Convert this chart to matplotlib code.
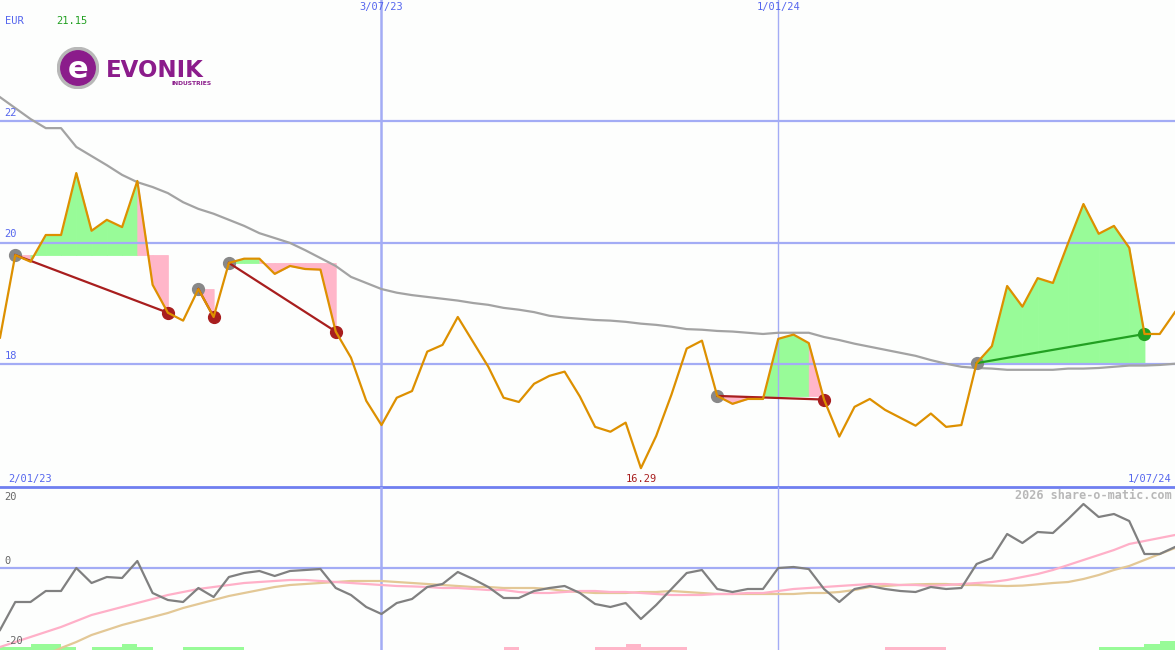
import matplotlib
matplotlib.use('Agg')
import matplotlib.pyplot as plt
import numpy as np
from matplotlib.patches import Circle
from matplotlib.transforms import blended_transform_factory

# weekly closing prices (EUR), index 0 = 2/01/23
price = [18.44, 19.80, 19.69, 20.13, 20.13, 21.15, 20.20, 20.38, 20.26, 21.02,
         19.31, 18.85, 18.72, 19.24, 18.78, 19.67, 19.74, 19.74, 19.49, 19.62,
         19.57, 19.56, 18.54, 18.11, 17.40, 17.00, 17.45, 17.56, 18.21, 18.32,
         18.78, 18.37, 17.96, 17.45, 17.38, 17.68, 17.81, 17.88, 17.47, 16.97,
         16.89, 17.04, 16.29, 16.82, 17.50, 18.26, 18.39, 17.48, 17.35, 17.43,
         17.43, 18.42, 18.49, 18.35, 17.42, 16.81, 17.30, 17.43, 17.25, 17.12,
         16.99, 17.19, 16.97, 17.00, 18.02, 18.30, 19.29, 18.95, 19.42, 19.34,
         20.00, 20.64, 20.15, 20.28, 19.92, 18.50, 18.50, 18.86]

# long moving average
ma_long = [22.40, 22.22, 22.04, 21.89, 21.89, 21.58, 21.43, 21.28, 21.12, 21.00,
           20.92, 20.82, 20.67, 20.56, 20.48, 20.38, 20.28, 20.16, 20.08, 20.00,
           19.88, 19.75, 19.62, 19.44, 19.34, 19.24, 19.18, 19.14, 19.11, 19.08,
           19.05, 19.01, 18.98, 18.93, 18.90, 18.86, 18.80, 18.77, 18.75, 18.73,
           18.72, 18.70, 18.67, 18.65, 18.62, 18.58, 18.57, 18.55, 18.54, 18.52,
           18.50, 18.52, 18.52, 18.52, 18.45, 18.40, 18.34, 18.29, 18.24, 18.19,
           18.14, 18.07, 18.01, 17.96, 17.94, 17.93, 17.91, 17.91, 17.91, 17.91,
           17.93, 17.93, 17.94, 17.96, 17.98, 17.98, 17.99, 18.01]

# trades: (entry index, exit index)
trades = [(1, 11), (13, 14), (15, 22), (47, 54), (64, 75)]

# oscillator panel
osc = [-15.5, -8.5, -8.5, -5.75, -5.75, 0, -3.75, -2.25, -2.5, 1.75,
       -6.25, -8, -8.5, -5, -7.25, -2.25, -1.25, -0.75, -2, -0.75,
       -0.5, -0.25, -5, -6.75, -9.75, -11.5, -8.75, -7.75, -4.75, -4,
       -1, -2.75, -4.75, -7.5, -7.5, -5.75, -5, -4.5, -6.25, -9,
       -9.75, -8.75, -12.75, -9.25, -5.25, -1.25, -0.5, -5.25, -6, -5.25,
       -5.25, 0, 0.25, -0.25, -5.25, -8.5, -5.25, -4.5, -5.25, -5.75,
       -6, -4.75, -5.25, -5, 1, 2.5, 8.5, 6.25, 9, 8.75,
       12.25, 16, 12.75, 13.5, 11.75, 3.5, 3.5, 5.25]
sig_fast = [-19.75, -18.5, -17.25, -16, -14.75, -13.25, -11.75, -10.75, -9.75, -8.75,
            -7.75, -6.75, -6, -5.25, -4.75, -4.25, -3.75, -3.5, -3.25, -3,
            -3, -3.25, -3.5, -3.75, -4, -4.25, -4.5, -4.6, -4.75, -5,
            -5, -5.25, -5.5, -5.5, -6, -6.25, -6.25, -6, -5.75, -5.75,
            -6, -6, -6.25, -6.5, -6.75, -6.75, -6.75, -6.5, -6.5, -6.25,
            -6.25, -5.75, -5.25, -5, -4.75, -4.5, -4.25, -4, -4, -4.25,
            -4.25, -4.5, -4.25, -4, -3.75, -3.5, -3, -2.25, -1.5, -0.5,
            0.75, 2, 3.25, 4.5, 6, 6.75, 7.5, 8.25]
sig_slow = [-26.5, -24.75, -23.25, -21.75, -20, -18.5, -16.75, -15.5, -14.25, -13.25,
            -12.25, -11.25, -10, -9, -8, -7, -6.25, -5.5, -4.75, -4.25,
            -4, -3.75, -3.5, -3.25, -3.25, -3.25, -3.5, -3.75, -4, -4.25,
            -4.5, -4.75, -4.75, -5, -5, -5, -5.25, -5.75, -6, -6.25,
            -6.25, -6.25, -6, -6, -5.75, -6, -6.25, -6.5, -6.5, -6.5,
            -6.5, -6.5, -6.5, -6.25, -6.25, -6, -5.5, -4.75, -4.5, -4.25,
            -4.1, -4, -4, -4.25, -4.25, -4.4, -4.5, -4.4, -4.1, -3.75,
            -3.5, -2.75, -1.75, -0.5, 0.5, 2, 3.5, 5]
# signal bars at the bottom (+ green, - pink), level per week
bars = [1, 1, 2, 2, 1, 0, 1, 1, 2, 1, 0, 0, 1, 1, 1, 1, 0, 0, 0, 0,
        0, 0, 0, 0, 0, 0, 0, 0, 0, 0, 0, 0, 0, -1, 0, 0, 0, 0, 0, -1,
        -1, -2, -1, -1, -1, 0, 0, 0, 0, 0, 0, 0, 0, 0, 0, 0, 0, 0, -1, -1,
        -1, -1, 0, 0, 0, 0, 0, 0, 0, 0, 0, 0, 1, 1, 1, 2, 3, 0]

date_labels = {0: '2/01/23', 25: '3/07/23', 51: '1/01/24', 77: '1/07/24'}
y_levels = [18, 20, 22]
osc_levels = [20, 0, -20]

GRID = '#a3acf5'
DIV = '#6f7ff0'
LABEL = '#5566ee'
ORANGE = '#dd9000'
BG = '#fdfefd'
MONO = 'DejaVu Sans Mono'

W, H = 1175, 650
fig = plt.figure(figsize=(W / 100, H / 100), dpi=100, facecolor=BG)
ax = fig.add_axes([0, 1 - 487 / H, 1, 487 / H])
ax2 = fig.add_axes([0, 0, 1, 1 - 487 / H])
for a in (ax, ax2):
    a.set_facecolor(BG)
    a.axis('off')
    a.set_xlim(0, len(price) - 1)
ax.set_ylim(15.98, 24.0)
ax2.set_ylim(-20.5, 20.25)

x = np.arange(len(price))
p = np.array(price)

# main panel
for lv in y_levels:
    ax.axhline(lv, color=GRID, lw=1.6, zorder=2)
for i, lab in date_labels.items():
    if 0 < i < len(price) - 1:
        lw = 1.8 if i == 25 else 1.0
        for a in (ax, ax2):
            a.axvline(i, color=GRID, lw=lw, zorder=2)
ax.axhline(15.98, color=DIV, lw=2, zorder=7, clip_on=False)

for s, e in trades:
    entry = p[s]
    for i in range(s, e):
        col = '#98fb98' if p[i + 1] >= entry else '#ffb6c9'
        ax.fill_between([i, i + 1], [p[i], p[i + 1]], entry, facecolor=col,
                        edgecolor=col, lw=0.6, zorder=1)
    col = '#22a022' if p[e] > entry else '#a81e1e'
    ax.plot([s], [entry], 'o', color='#888888', ms=8.5, zorder=4)
    ax.plot([e], [p[e]], 'o', color=col, ms=8.5, zorder=4)
    ax.plot([s, e], [entry, p[e]], color=col, lw=1.6, zorder=5)

ax.plot(x, ma_long, color='#a3a3a3', lw=1.6, zorder=3)
ax.plot(x, p, color=ORANGE, lw=1.6, zorder=6)

tr = blended_transform_factory(ax.transAxes, ax.transData)
for lv in y_levels:
    ax.text(0.004, lv + 0.06, str(lv), transform=tr, color=LABEL, fontsize=7.5,
            family=MONO, va='bottom', ha='left')
trx = blended_transform_factory(ax.transData, ax.transAxes)
for i, lab in date_labels.items():
    if 0 < i < len(price) - 1:
        ax.text(i, 0.995, lab, transform=trx, color=LABEL, fontsize=7.5,
                family=MONO, va='top', ha='center')
ax.text(0.007, 0.006, date_labels[0], transform=ax.transAxes, color=LABEL,
        fontsize=7.5, family=MONO, va='bottom', ha='left')
ax.text(0.997, 0.006, date_labels[len(price) - 1], transform=ax.transAxes, color=LABEL,
        fontsize=7.5, family=MONO, va='bottom', ha='right')
imin = int(np.argmin(p))
ax.text(imin, 0.006, f'{p.min():.2f}', transform=trx, color='#a81e1e',
        fontsize=7.5, family=MONO, va='bottom', ha='center')
fig.text(5 / W, 1 - 24 / H, 'EUR', color=LABEL, fontsize=7.5, family=MONO)
fig.text(56 / W, 1 - 24 / H, f'{p.max():.2f}', color='#22a022', fontsize=7.5, family=MONO)

# logo
lax = fig.add_axes([57 / W, 1 - 89 / H, 42 / W, 42 / H])
lax.set_xlim(-1, 1)
lax.set_ylim(-1, 1)
lax.axis('off')
lax.add_patch(Circle((0, 0), 0.98, color='#b8b8b8'))
lax.add_patch(Circle((0, 0), 0.82, color='#8b1c8b'))
lax.text(0.02, -0.05, 'e', color='white', fontsize=22, fontweight='bold',
         ha='center', va='center', family='DejaVu Sans')
fig.text(106 / W, 1 - 77 / H, 'EVONIK', color='#8b1c8b', fontsize=16.5,
         fontweight='bold', family='DejaVu Sans')
fig.text(212 / W, 1 - 85 / H, 'INDUSTRIES', color='#8b1c8b', fontsize=4.3,
         fontweight='bold', family='DejaVu Sans', ha='right')

# oscillator panel
unit = 0.75
b = np.array(bars)
for i, v in enumerate(b):
    if v != 0:
        ax2.bar(i, abs(v) * unit, width=1, bottom=-20.5, align='edge',
                color='#98fb98' if v > 0 else '#ffb6c9', lw=0, zorder=1)
ax2.axhline(0, color=GRID, lw=1.6, zorder=2)
ax2.plot(x, sig_slow, color='#e3c896', lw=1.6, zorder=3)
ax2.plot(x, sig_fast, color='#ffb0c8', lw=1.6, zorder=3)
ax2.plot(x, osc, color='#808080', lw=1.6, zorder=4)
tr2 = blended_transform_factory(ax2.transAxes, ax2.transData)
for lv in osc_levels:
    yy = min(max(lv, -20.2), 16.0)
    ax2.text(0.004, yy + 0.6, str(lv), transform=tr2, color='#666666', fontsize=7.5,
             family=MONO, va='bottom', ha='left')
ax2.text(0.997, 0.985, '2026 share-o-matic.com', transform=ax2.transAxes,
         color='#b8b8b8', fontsize=8.5, fontweight='bold', family=MONO,
         va='top', ha='right')

fig.savefig('out.png', dpi=100, facecolor=BG)
